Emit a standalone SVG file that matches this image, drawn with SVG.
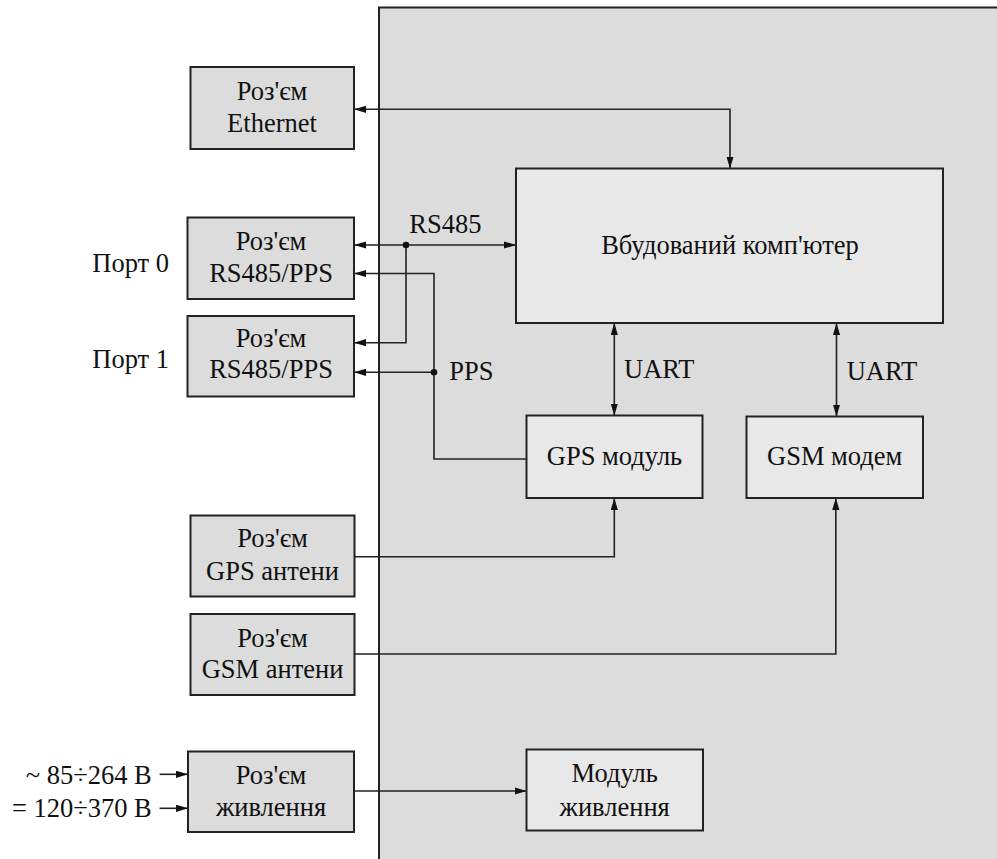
<svg xmlns="http://www.w3.org/2000/svg" width="997" height="859" viewBox="0 0 997 859">
<defs>
<style>
.panel{fill:#dcdcdc;stroke:#222;stroke-width:2}
.conn{fill:#dcdcdc;stroke:#222;stroke-width:2}
.inner{fill:#e8e8e8;stroke:#222;stroke-width:2}
.t{font-size:26.5px;fill:#111}
.c{text-anchor:middle}
.e{text-anchor:end}
.w{fill:none;stroke:#222;stroke-width:1.6}
.dot{fill:#111}
</style>
<marker id="ah" markerUnits="userSpaceOnUse" markerWidth="13" markerHeight="8" refX="12" refY="3.6" orient="auto-start-reverse">
<path d="M0,0 L12,3.6 L0,7.2 z" fill="#111"/>
</marker>
</defs>
<rect width="997" height="859" fill="#fff"/>
<rect class="panel" x="379" y="7.5" width="640" height="870"/>

<g id="connectors" font-family="Liberation Serif, Tinos, Times New Roman, DejaVu Serif, serif">
<path class="w" d="M730,168.5 V109.3 H354" marker-start="url(#ah)" marker-end="url(#ah)"/>
<path class="w" d="M354,245 H516" marker-start="url(#ah)" marker-end="url(#ah)"/>
<path class="w" d="M406,245 V342.7 H354" marker-end="url(#ah)"/>
<path class="w" d="M526.5,459 H434 V273.5 H354" marker-end="url(#ah)"/>
<path class="w" d="M434,372.3 H354" marker-end="url(#ah)"/>
<circle class="dot" cx="406" cy="245" r="3.3"/>
<circle class="dot" cx="434" cy="372.3" r="3.3"/>
<path class="w" d="M614.3,323 V415.5" marker-start="url(#ah)" marker-end="url(#ah)"/>
<path class="w" d="M836.5,323 V416.5" marker-start="url(#ah)" marker-end="url(#ah)"/>
<path class="w" d="M354.5,556.7 H614.3 V498" marker-end="url(#ah)"/>
<path class="w" d="M354.5,654 H835.8 V498" marker-end="url(#ah)"/>
<path class="w" d="M354,791 H526.5" marker-end="url(#ah)"/>
<path class="w" d="M159.6,774.3 H188" marker-end="url(#ah)"/>
<path class="w" d="M159.6,808.3 H188" marker-end="url(#ah)"/>
<text class="t" x="409.3" y="233.3">RS485</text>
<text class="t" x="449.3" y="380">PPS</text>
<text class="t" x="624" y="377.7">UART</text>
<text class="t" x="846.7" y="380">UART</text>
<text class="t e" x="151.8" y="784.3">~ 85÷264 В</text>
<text class="t e" x="151.8" y="816.7">= 120÷370 В</text>
</g>

<g font-family="Liberation Serif, Tinos, Times New Roman, DejaVu Serif, serif">
<g id="ethernet">
<rect class="conn" x="190.5" y="67" width="163.5" height="82"/>
<text class="t c" x="272" y="100">Роз'єм</text>
<text class="t c" x="272" y="131.7">Ethernet</text>
</g>

<g id="computer">
<rect class="inner" x="516" y="168.5" width="427" height="154.5"/>
<text class="t c" x="730" y="254">Вбудований комп'ютер</text>
</g>

<g id="rs485-0">
<rect class="conn" x="187.5" y="217.5" width="166.5" height="81.5"/>
<text class="t c" x="271" y="250">Роз'єм</text>
<text class="t c" x="271" y="281.7">RS485/PPS</text>
<text class="t" x="92.3" y="272.3">Порт 0</text>
</g>

<g id="rs485-1">
<rect class="conn" x="187.5" y="316" width="166.5" height="80.5"/>
<text class="t c" x="271" y="346.7">Роз'єм</text>
<text class="t c" x="271" y="378.3">RS485/PPS</text>
<text class="t" x="92.3" y="368.3">Порт 1</text>
</g>

<g id="gps-module">
<rect class="inner" x="526.5" y="415.5" width="176" height="82.5"/>
<text class="t c" x="614.5" y="465">GPS модуль</text>
</g>

<g id="gsm-modem">
<rect class="inner" x="746.5" y="416.5" width="176.5" height="81.5"/>
<text class="t c" x="834.7" y="465">GSM модем</text>
</g>

<g id="gps-antenna">
<rect class="conn" x="190.5" y="515.5" width="164" height="81"/>
<text class="t c" x="272.5" y="546.7">Роз'єм</text>
<text class="t c" x="272.5" y="580">GPS антени</text>
</g>

<g id="gsm-antenna">
<rect class="conn" x="190.5" y="614" width="164" height="81"/>
<text class="t c" x="272.5" y="646.7">Роз'єм</text>
<text class="t c" x="272.5" y="677.7">GSM антени</text>
</g>

<g id="power-connector">
<rect class="conn" x="188" y="751.5" width="166" height="80.5"/>
<text class="t c" x="271" y="784">Роз'єм</text>
<text class="t c" x="271" y="815.7">живлення</text>
</g>

<g id="power-module">
<rect class="inner" x="526.5" y="749.5" width="176.5" height="81"/>
<text class="t c" x="614.7" y="782.3">Модуль</text>
<text class="t c" x="614.7" y="815.7">живлення</text>
</g>
</g>
</svg>
